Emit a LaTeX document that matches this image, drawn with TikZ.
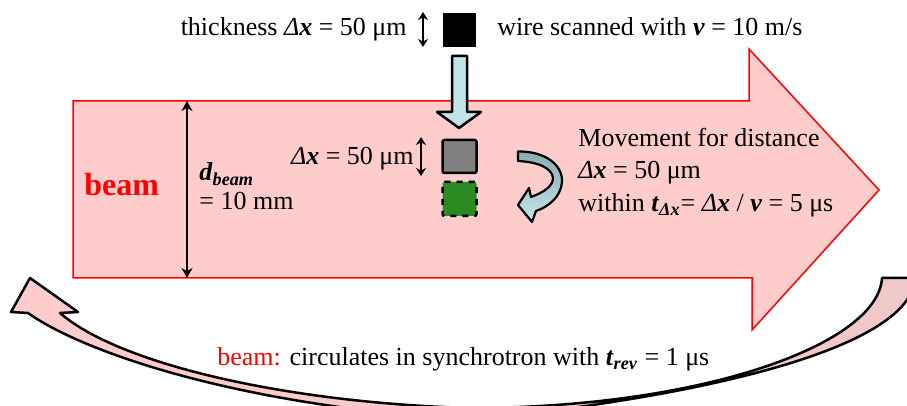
\documentclass[tikz,border=0pt]{standalone}
\usepackage{fontspec}
\setmainfont{Liberation Serif}
\usepackage{graphicx}
\usetikzlibrary{arrows.meta}
\definecolor{beampink}{HTML}{FFCCCC}
\definecolor{beamred}{HTML}{FF0000}
\definecolor{wireblue}{HTML}{C2E3EA}
\definecolor{turntop}{HTML}{88ABAE}
\definecolor{turnbot}{HTML}{C4E6EC}
\definecolor{wiregreen}{HTML}{2C8A22}
\definecolor{wiregray}{HTML}{808080}
\definecolor{circpinkA}{HTML}{FFCCCC}
\definecolor{circpinkB}{HTML}{EFC8C8}
\newcommand{\bi}[1]{\textbf{\textit{#1}}}
\newcommand{\dX}{\textit{Δ}\bi{x}}
\begin{document}
\begin{tikzpicture}[x=0.5pt,y=-0.5pt,
  txt/.style={inner sep=0pt, font=\fontsize{13}{15.6}\selectfont},
  dimarrow/.style={line width=1pt, {Stealth[length=5pt,width=5.5pt]}-{Stealth[length=5pt,width=5.5pt]}},
  smallarrow/.style={line width=1pt, {Stealth[length=4pt,width=5pt]}-{Stealth[length=4pt,width=5pt]}},
  outl/.style={draw=black, line width=1.25pt, line join=round}]
\useasboundingbox (0,0) rectangle (907,406);

% circulating arrow (behind)
\path[outl, left color=circpinkA, right color=circpinkB]
  (882,278) -- (915,278)
  .. controls (912,345) and (720,395) .. (470,420)
  .. controls (230,405) and (80,350) .. (28,313)
  -- (11,312) -- (30,278) -- (78,312) -- (60,313)
  .. controls (120,365) and (290,403) .. (470,408)
  .. controls (700,408) and (878,345) .. (882,278) -- cycle;

% beam arrow
\path[fill=beampink, draw=beamred, line width=0.75pt]
  (73,101) -- (749,101) -- (749,49) -- (879,190) -- (752,330) -- (752,278) -- (73,278) -- cycle;

% top row
\node[txt, anchor=base east] (thick) at (407,36) {thickness \dX{} = 50 μm};
\coordinate (ta) at (423,12);
\coordinate (tb) at (423,47);
\draw[smallarrow] (ta) -- (tb);
\node[fill=black, draw=black, inner sep=0pt, minimum width=16pt, minimum height=16.5pt] (wire) at (459.5,30) {};
\node[txt, anchor=base west] (scan) at (497,36) {wire scanned with \bi{v} = 10 m/s};

% down arrow
\path[outl, fill=wireblue]
  (452,56) -- (467,56) -- (467,112) -- (481,112) -- (459,128) -- (437,112) -- (452,112) -- cycle;

% squares
\node[fill=wiregray, draw=black, line width=1.25pt, rounded corners=1pt, inner sep=0pt,
      minimum width=17pt, minimum height=16.5pt] (grey) at (459.5,156.5) {};
\node[fill=wiregreen, draw=black, dashed, line width=1.25pt, rounded corners=1pt, inner sep=0pt,
      minimum width=17pt, minimum height=17pt] (green) at (459.5,199) {};
\coordinate (sa) at (421,137);
\coordinate (sb) at (421,176);
\draw[smallarrow] (sa) -- (sb);
\node[txt, anchor=base east] (dxl) at (414,165) {\dX{} = 50 μm};

% turning arrow
\path[outl, line width=1.1pt, top color=turntop, bottom color=turnbot]
  (518,151.5) .. controls (545,151) and (563,165) .. (562,182)
  .. controls (561,197) and (548,207) .. (536,211)
  -- (532,222) -- (518,205) -- (529,188) -- (531,197)
  .. controls (542,193) and (553,187) .. (553,178)
  .. controls (552,168) and (538,162) .. (518,161) -- cycle;

% movement text
\node[txt, anchor=base west] (mv1) at (578,147) {Movement for distance};
\node[txt, anchor=base west] (mv2) at (578,179) {\dX{} = 50 μm};
\node[txt, anchor=base west] (mv3) at (578,212) {within \bi{t}\textsubscript{\bi{Δx}}= \dX{} / \bi{v} = 5 μs};

% beam size
\node[inner sep=0pt, anchor=base west, text=beamred, font=\fontsize{16}{19}\selectfont\bfseries] (beam) at (84,196) {beam};
\coordinate (da) at (187,101);
\coordinate (db) at (187,278);
\draw[dimarrow] (da) -- (db);
\node[txt, anchor=base west] (dbeam) at (199,181) {\bi{d}\textsubscript{\bi{beam}}};
\node[txt, anchor=base west] (dval) at (199,210) {= 10 mm};

% bottom text
\node[txt, anchor=base west] (circ) at (217,366) {\textcolor{beamred}{beam:} circulates in synchrotron with \bi{t}\textsubscript{\bi{rev}} = 1 μs};
\end{tikzpicture}
\end{document}
